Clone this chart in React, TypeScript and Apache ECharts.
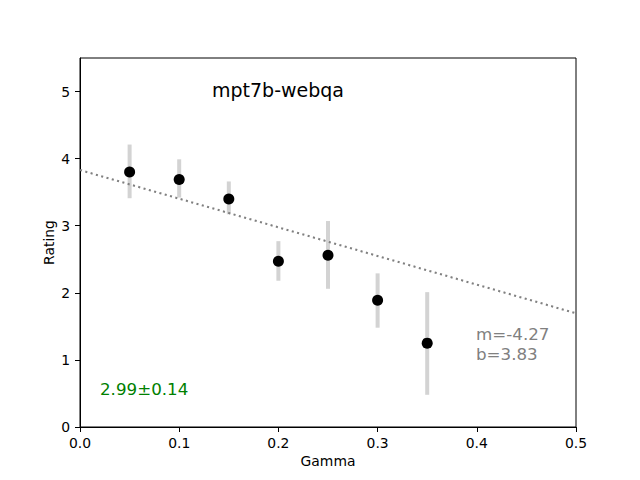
import React, { useEffect, useRef } from "react";
import * as echarts from "echarts";

const gammas = [0.05, 0.1, 0.15, 0.2, 0.25, 0.3, 0.35];
const ratings = [3.8, 3.69, 3.4, 2.47, 2.56, 1.89, 1.25];
const errLow = [3.41, 3.42, 3.17, 2.18, 2.06, 1.48, 0.48];
const errHigh = [4.21, 3.99, 3.66, 2.77, 3.07, 2.29, 2.01];
const fitSlope = -4.27;
const fitIntercept = 3.83;
const xTicks = [0, 0.1, 0.2, 0.3, 0.4, 0.5];
const yTicks = [0, 1, 2, 3, 4, 5];
const titleText = "mpt7b-webqa";
const fitText = ["m=-4.27", "b=3.83"];
const scoreText = "2.99±0.14";

const FONT = "DejaVu Sans";

export default function App() {
  const ref = useRef<HTMLDivElement>(null);
  useEffect(() => {
    if (!ref.current) return;
    const chart = echarts.init(ref.current, undefined, { renderer: "svg" });
    const fitData = [
      [0, fitIntercept],
      [0.5, fitIntercept + fitSlope * 0.5],
    ];
    const axisCommon = {
      axisLine: { show: true, lineStyle: { color: "#000", width: 1 } },
      axisTick: { show: true, inside: false, length: 5, lineStyle: { color: "#000", width: 1 } },
      splitLine: { show: false },
      nameMoveOverlap: false,
      nameTextStyle: { fontFamily: FONT, fontSize: 13.9, color: "#000" },
    };
    chart.setOption({
      animation: false,
      backgroundColor: "#fff",
      grid: {
        left: 80,
        right: 64,
        top: 58,
        bottom: 53,
        show: true,
        borderColor: "#000",
        borderWidth: 1,
        backgroundColor: "transparent",
      },
      xAxis: {
        type: "value",
        min: 0,
        max: 0.5,
        name: "Gamma",
        nameLocation: "middle",
        nameGap: 27,
        ...axisCommon,
        axisTick: { ...axisCommon.axisTick, customValues: xTicks },
        axisLabel: {
          customValues: xTicks,
          formatter: (v: number) => v.toFixed(1),
          fontFamily: FONT,
          fontSize: 13.9,
          color: "#000",
          margin: 9,
        },
      },
      yAxis: {
        type: "value",
        min: 0,
        max: 5.5,
        name: "Rating",
        nameLocation: "middle",
        nameGap: 24,
        ...axisCommon,
        axisTick: { ...axisCommon.axisTick, customValues: yTicks },
        axisLabel: {
          customValues: yTicks,
          formatter: (v: number) => String(v),
          fontFamily: FONT,
          fontSize: 13.9,
          color: "#000",
          margin: 10,
        },
      },
      series: [
        {
          type: "custom",
          z: 1,
          data: gammas.map((g, i) => [g, errLow[i], errHigh[i]]),
          renderItem: (params: any, api: any) => {
            const p1 = api.coord([api.value(0), api.value(1)]);
            const p2 = api.coord([api.value(0), api.value(2)]);
            return {
              type: "line",
              shape: { x1: p1[0], y1: p1[1], x2: p2[0], y2: p2[1] },
              style: { stroke: "#d3d3d3", lineWidth: 4 },
            };
          },
        },
        {
          type: "line",
          z: 2,
          data: fitData,
          showSymbol: false,
          symbol: "none",
          lineStyle: { color: "#808080", width: 2.08, type: [2.08, 3.43], cap: "butt", opacity: 1 },
        },
        {
          type: "scatter",
          z: 3,
          data: gammas.map((g, i) => [g, ratings[i]]),
          symbol: "circle",
          symbolSize: 11,
          itemStyle: { color: "#000", opacity: 1 },
        },
      ],
      graphic: [
        {
          type: "text",
          left: 212,
          top: 80,
          style: { text: titleText, fontFamily: FONT, fontSize: 19, fill: "#000" },
        },
        {
          type: "text",
          left: 476,
          top: 324,
          style: {
            text: fitText.join("\n"),
            fontFamily: FONT,
            fontSize: 16.7,
            lineHeight: 20,
            fill: "#808080",
          },
        },
        {
          type: "text",
          left: 100,
          top: 380,
          style: { text: scoreText, fontFamily: FONT, fontSize: 16.7, fill: "#008000" },
        },
      ],
    });
    return () => chart.dispose();
  }, []);
  return (
    <div
      ref={ref}
      style={{ position: "fixed", left: 0, top: 0, width: 640, height: 480 }}
    />
  );
}
